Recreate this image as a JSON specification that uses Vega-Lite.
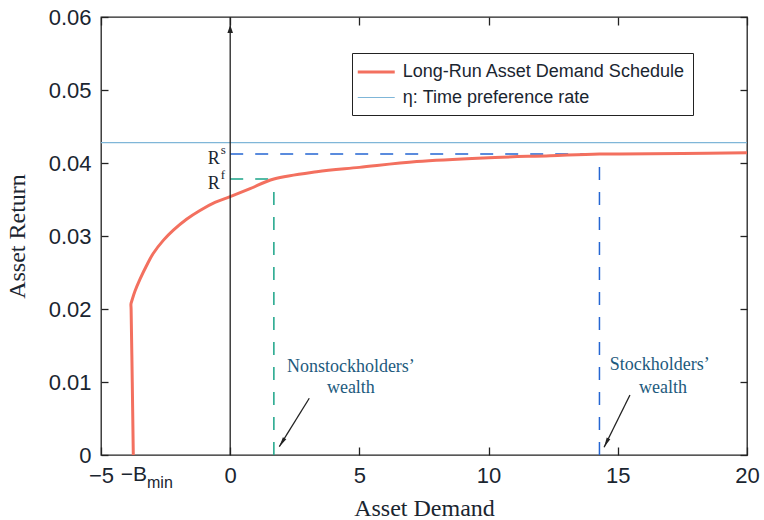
{
  "$schema": "https://vega.github.io/schema/vega-lite/v6.json",
  "width": 646,
  "height": 438,
  "autosize": {"type": "none"},
  "padding": {"left": 101, "top": 17, "right": 17, "bottom": 65},
  "background": "white",
  "config": {
    "view": {"stroke": "#222", "strokeWidth": 1.3},
    "axis": {
      "labelFont": "Liberation Sans",
      "labelFontSize": 22,
      "labelColor": "#1a2530",
      "titleFont": "Liberation Serif",
      "titleFontSize": 24,
      "titleFontWeight": "normal",
      "titleColor": "#1a2530",
      "grid": false,
      "domain": false,
      "labelFlush": false,
      "tickColor": "#222",
      "tickWidth": 1.3
    }
  },
  "datasets": {
    "lines": [
      {"series": "Long-Run Asset Demand Schedule", "i": 0, "x": -3.75, "y": 0},
      {"series": "Long-Run Asset Demand Schedule", "i": 1, "x": -3.79, "y": 0.010},
      {"series": "Long-Run Asset Demand Schedule", "i": 2, "x": -3.835, "y": 0.0200},
      {"series": "Long-Run Asset Demand Schedule", "i": 3, "x": -3.84, "y": 0.0207},
      {"series": "Long-Run Asset Demand Schedule", "i": 4, "x": -3.80, "y": 0.0212},
      {"series": "Long-Run Asset Demand Schedule", "i": 5, "x": -3.68, "y": 0.0225},
      {"series": "Long-Run Asset Demand Schedule", "i": 6, "x": -3.49, "y": 0.0241},
      {"series": "Long-Run Asset Demand Schedule", "i": 7, "x": -3.23, "y": 0.0260},
      {"series": "Long-Run Asset Demand Schedule", "i": 8, "x": -2.98, "y": 0.0276},
      {"series": "Long-Run Asset Demand Schedule", "i": 9, "x": -2.59, "y": 0.0294},
      {"series": "Long-Run Asset Demand Schedule", "i": 10, "x": -2.20, "y": 0.0308},
      {"series": "Long-Run Asset Demand Schedule", "i": 11, "x": -1.69, "y": 0.0323},
      {"series": "Long-Run Asset Demand Schedule", "i": 12, "x": -1.17, "y": 0.0335},
      {"series": "Long-Run Asset Demand Schedule", "i": 13, "x": -0.59, "y": 0.0346},
      {"series": "Long-Run Asset Demand Schedule", "i": 14, "x": 0, "y": 0.0354},
      {"series": "Long-Run Asset Demand Schedule", "i": 15, "x": 0.77, "y": 0.0365},
      {"series": "Long-Run Asset Demand Schedule", "i": 16, "x": 1.69, "y": 0.0378},
      {"series": "Long-Run Asset Demand Schedule", "i": 17, "x": 3.35, "y": 0.0388},
      {"series": "Long-Run Asset Demand Schedule", "i": 18, "x": 5.0, "y": 0.0394},
      {"series": "Long-Run Asset Demand Schedule", "i": 19, "x": 7.22, "y": 0.0402},
      {"series": "Long-Run Asset Demand Schedule", "i": 20, "x": 9.80, "y": 0.0407},
      {"series": "Long-Run Asset Demand Schedule", "i": 21, "x": 12.38, "y": 0.0410},
      {"series": "Long-Run Asset Demand Schedule", "i": 22, "x": 14.29, "y": 0.04123},
      {"series": "Long-Run Asset Demand Schedule", "i": 23, "x": 17.5, "y": 0.0413},
      {"series": "Long-Run Asset Demand Schedule", "i": 24, "x": 20, "y": 0.0414},
      {"series": "η: Time preference rate", "i": 0, "x": -5, "y": 0.0428},
      {"series": "η: Time preference rate", "i": 1, "x": 20, "y": 0.0428}
    ],
    "blueDash": [
      {"x": 0, "x2": 14.29, "y": 0.04123, "y2": 0.04123},
      {"x": 14.29, "x2": 14.29, "y": 0, "y2": 0.04123}
    ],
    "greenDash": [
      {"x": 0, "x2": 1.69, "y": 0.0378, "y2": 0.0378},
      {"x": 1.69, "x2": 1.69, "y": 0, "y2": 0.0378}
    ],
    "arrows": [
      {"who": "non", "x": 3.06, "y": 0.00777, "x2": 1.90, "y2": 0.00114},
      {"who": "stock", "x": 15.47, "y": 0.00822, "x2": 14.47, "y2": 0.00105}
    ],
    "notes": [
      {"x": 4.67, "y": 0.0121, "t": "Nonstockholders’"},
      {"x": 4.67, "y": 0.00913, "t": "wealth"},
      {"x": 16.62, "y": 0.0123, "t": "Stockholders’"},
      {"x": 16.75, "y": 0.00913, "t": "wealth"}
    ],
    "rLabels": [
      {"x": -0.4, "y": 0.04123, "t": "R", "sup": "s"},
      {"x": -0.4, "y": 0.0378, "t": "R", "sup": "f"}
    ]
  },
  "resolve": {"axis": {"x": "independent", "y": "independent"}},
  "layer": [
    {
      "data": {"name": "blueDash"},
      "mark": {"type": "rule", "color": "#2566d2", "strokeWidth": 1.5, "strokeDash": [13, 12]},
      "encoding": {
        "x": {"field": "x", "type": "quantitative", "scale": {"domain": [-5, 20], "nice": false, "zero": false}, "axis": null},
        "x2": {"field": "x2"},
        "y": {"field": "y", "type": "quantitative", "scale": {"domain": [0, 0.06], "nice": false}, "axis": null},
        "y2": {"field": "y2"}
      }
    },
    {
      "data": {"name": "greenDash"},
      "mark": {"type": "rule", "color": "#1aa488", "strokeWidth": 1.5, "strokeDash": [13, 12]},
      "encoding": {
        "x": {"field": "x", "type": "quantitative", "scale": {"domain": [-5, 20], "nice": false, "zero": false}, "axis": null},
        "x2": {"field": "x2"},
        "y": {"field": "y", "type": "quantitative", "scale": {"domain": [0, 0.06], "nice": false}, "axis": null},
        "y2": {"field": "y2"}
      }
    },
    {
      "data": {"name": "lines"},
      "mark": {"type": "line", "interpolate": "catmull-rom"},
      "encoding": {
        "x": {
          "field": "x", "type": "quantitative",
          "scale": {"domain": [-5, 20], "nice": false, "zero": false},
          "axis": {"orient": "bottom", "values": [-5, 0, 5, 10, 15, 20], "tickSize": -8, "labelPadding": 18, "title": "Asset Demand", "titlePadding": 10}
        },
        "y": {
          "field": "y", "type": "quantitative",
          "scale": {"domain": [0, 0.06], "nice": false},
          "axis": {"orient": "left", "values": [0, 0.01, 0.02, 0.03, 0.04, 0.05, 0.06], "labelExpr": "datum.value == 0 ? '0' : format(datum.value, '.2f')", "tickSize": -7, "labelPadding": 17, "title": "Asset Return", "titlePadding": 19}
        },
        "order": {"field": "i", "type": "quantitative"},
        "color": {
          "field": "series", "type": "nominal",
          "scale": {"domain": ["Long-Run Asset Demand Schedule", "η: Time preference rate"], "range": ["#f3705f", "#7fb6d8"]},
          "legend": {"title": null, "orient": "none", "legendX": 251, "legendY": 36, "symbolType": "M-2,0H2", "symbolSize": 342, "symbolOffset": 5.25, "labelFont": "Liberation Sans", "labelFontSize": 18, "labelColor": "#1a2530", "labelOffset": 15.5, "labelLimit": 400, "padding": 8, "rowPadding": 6.5, "strokeColor": "#222", "fillColor": "white"}
        },
        "strokeWidth": {
          "field": "series", "type": "nominal",
          "scale": {"domain": ["Long-Run Asset Demand Schedule", "η: Time preference rate"], "range": [3, 1.2]},
          "legend": {"title": null, "orient": "none", "legendX": 251, "legendY": 36, "symbolType": "M-2,0H2", "symbolSize": 342, "symbolOffset": 5.25, "labelFont": "Liberation Sans", "labelFontSize": 18, "labelColor": "#1a2530", "labelOffset": 15.5, "labelLimit": 400, "padding": 8, "rowPadding": 6.5, "strokeColor": "#222", "fillColor": "white"}
        }
      }
    },
    {
      "data": {"values": [{"x": 0, "y": 0, "y2": 0.06}]},
      "mark": {"type": "rule", "color": "#222", "strokeWidth": 1.3},
      "encoding": {
        "x": {
          "field": "x", "type": "quantitative",
          "scale": {"domain": [-5, 20], "nice": false, "zero": false},
          "axis": {"orient": "top", "values": [-5, 0, 5, 10, 15, 20], "tickSize": -8, "labels": false, "title": null}
        },
        "y": {
          "field": "y", "type": "quantitative",
          "scale": {"domain": [0, 0.06], "nice": false},
          "axis": {"orient": "right", "values": [0, 0.01, 0.02, 0.03, 0.04, 0.05, 0.06], "tickSize": -7, "labels": false, "title": null}
        },
        "y2": {"field": "y2"}
      }
    },
    {
      "data": {"values": [{"x": 0, "y": 0.0589}]},
      "mark": {"type": "point", "shape": "M0,0L0.7,2L-0.7,2Z", "size": 64, "filled": true, "color": "#222", "opacity": 1},
      "encoding": {
        "x": {"field": "x", "type": "quantitative", "scale": {"domain": [-5, 20], "nice": false, "zero": false}, "axis": null},
        "y": {"field": "y", "type": "quantitative", "scale": {"domain": [0, 0.06], "nice": false}, "axis": null}
      }
    },
    {
      "data": {"name": "arrows"},
      "mark": {"type": "rule", "color": "#222", "strokeWidth": 1.3},
      "encoding": {
        "x": {"field": "x", "type": "quantitative", "scale": {"domain": [-5, 20], "nice": false, "zero": false}, "axis": null},
        "x2": {"field": "x2"},
        "y": {"field": "y", "type": "quantitative", "scale": {"domain": [0, 0.06], "nice": false}, "axis": null},
        "y2": {"field": "y2"}
      }
    },
    {
      "data": {"name": "arrows"},
      "mark": {"type": "point", "shape": "M0,0L0.4,2L-0.4,2Z", "size": 100, "filled": true, "color": "#222", "opacity": 1},
      "encoding": {
        "x": {"field": "x2", "type": "quantitative", "scale": {"domain": [-5, 20], "nice": false, "zero": false}, "axis": null},
        "y": {"field": "y2", "type": "quantitative", "scale": {"domain": [0, 0.06], "nice": false}, "axis": null},
        "angle": {"field": "who", "type": "nominal", "scale": {"domain": ["non", "stock"], "range": [212, 206]}, "legend": null}
      }
    },
    {
      "data": {"name": "notes"},
      "mark": {"type": "text", "font": "Liberation Serif", "fontSize": 18, "color": "#1d5a7d", "align": "center", "baseline": "middle"},
      "encoding": {
        "x": {"field": "x", "type": "quantitative", "scale": {"domain": [-5, 20], "nice": false, "zero": false}, "axis": null},
        "y": {"field": "y", "type": "quantitative", "scale": {"domain": [0, 0.06], "nice": false}, "axis": null},
        "text": {"field": "t"}
      }
    },
    {
      "data": {"name": "rLabels"},
      "mark": {"type": "text", "font": "Liberation Serif", "fontSize": 18, "color": "#1a2530", "align": "right", "baseline": "alphabetic", "dy": 10},
      "encoding": {
        "x": {"field": "x", "type": "quantitative", "scale": {"domain": [-5, 20], "nice": false, "zero": false}, "axis": null},
        "y": {"field": "y", "type": "quantitative", "scale": {"domain": [0, 0.06], "nice": false}, "axis": null},
        "text": {"field": "t"}
      }
    },
    {
      "data": {"name": "rLabels"},
      "mark": {"type": "text", "font": "Liberation Serif", "fontSize": 13, "color": "#1a2530", "align": "left", "baseline": "alphabetic", "dx": 1, "dy": 0},
      "encoding": {
        "x": {"field": "x", "type": "quantitative", "scale": {"domain": [-5, 20], "nice": false, "zero": false}, "axis": null},
        "y": {"field": "y", "type": "quantitative", "scale": {"domain": [0, 0.06], "nice": false}, "axis": null},
        "text": {"field": "sup"}
      }
    },
    {
      "data": {"values": [{"x": -3.22, "y": 0, "t": "−B"}]},
      "mark": {"type": "text", "font": "Liberation Sans", "fontSize": 21, "color": "#1a2530", "align": "right", "baseline": "alphabetic", "dy": 26},
      "encoding": {
        "x": {"field": "x", "type": "quantitative", "scale": {"domain": [-5, 20], "nice": false, "zero": false}, "axis": null},
        "y": {"field": "y", "type": "quantitative", "scale": {"domain": [0, 0.06], "nice": false}, "axis": null},
        "text": {"field": "t"}
      }
    },
    {
      "data": {"values": [{"x": -3.22, "y": 0, "t": "min"}]},
      "mark": {"type": "text", "font": "Liberation Sans", "fontSize": 16, "color": "#1a2530", "align": "left", "baseline": "alphabetic", "dy": 33},
      "encoding": {
        "x": {"field": "x", "type": "quantitative", "scale": {"domain": [-5, 20], "nice": false, "zero": false}, "axis": null},
        "y": {"field": "y", "type": "quantitative", "scale": {"domain": [0, 0.06], "nice": false}, "axis": null},
        "text": {"field": "t"}
      }
    }
  ]
}
